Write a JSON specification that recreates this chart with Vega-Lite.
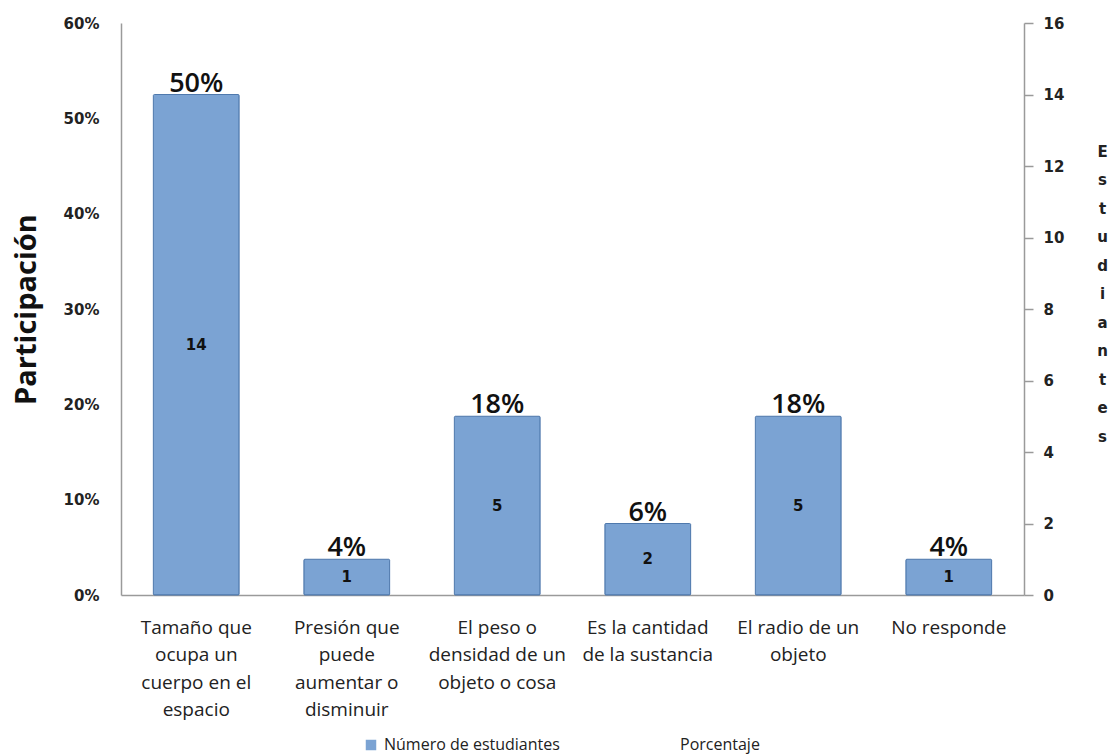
{
  "$schema": "https://vega.github.io/schema/vega-lite/v6.json",
  "width": 903,
  "height": 572,
  "autosize": {"type": "none"},
  "padding": {"left": 121, "top": 23, "right": 90, "bottom": 160},
  "background": "white",
  "config": {"view": {"stroke": null}},
  "data": {
    "values": [
      {"categoria": "Tamaño que|ocupa un|cuerpo en el|espacio", "estudiantes": 14, "porcentaje": "50%", "serie": "Número de estudiantes"},
      {"categoria": "Presión que|puede|aumentar o|disminuir", "estudiantes": 1, "porcentaje": "4%", "serie": "Número de estudiantes"},
      {"categoria": "El peso o|densidad de un|objeto o cosa", "estudiantes": 5, "porcentaje": "18%", "serie": "Número de estudiantes"},
      {"categoria": "Es la cantidad|de la sustancia", "estudiantes": 2, "porcentaje": "6%", "serie": "Número de estudiantes"},
      {"categoria": "El radio de un|objeto", "estudiantes": 5, "porcentaje": "18%", "serie": "Número de estudiantes"},
      {"categoria": "No responde", "estudiantes": 1, "porcentaje": "4%", "serie": "Número de estudiantes"}
    ]
  },
  "encoding": {
    "x": {
      "field": "categoria",
      "type": "nominal",
      "sort": null,
      "scale": {"paddingInner": 0.43, "paddingOuter": 0.215},
      "axis": {
        "title": null,
        "labelAngle": 0,
        "labelExpr": "split(datum.label, '|')",
        "labelFont": "Open Sans",
        "labelFontSize": 19,
        "labelColor": "#222222",
        "labelLineHeight": 27.5,
        "labelPadding": 23,
        "labelBaseline": "top",
        "ticks": false,
        "domainColor": "#9a9a9a",
        "domainWidth": 1.5,
        "labelLimit": 200
      }
    }
  },
  "layer": [
    {
      "layer": [
        {
          "mark": {"type": "bar", "stroke": "#4f79ad", "strokeWidth": 1, "cornerRadius": 1},
          "encoding": {
            "y": {
              "field": "estudiantes",
              "type": "quantitative",
              "scale": {"domain": [0, 16], "nice": false},
              "axis": {
                "orient": "right",
                "values": [0, 2, 4, 6, 8, 10, 12, 14, 16],
                "grid": false,
                "labelFont": "DejaVu Sans",
                "labelFontWeight": "bold",
                "labelFontSize": 15,
                "labelColor": "#222222",
                "labelPadding": 10,
                "tickColor": "#9a9a9a",
                "tickSize": 9,
                "tickWidth": 1.5,
                "domainColor": "#9a9a9a",
                "domainWidth": 1.5,
                "title": ["E", "s", "t", "u", "d", "i", "a", "n", "t", "e", "s"],
                "titleAngle": 0,
                "titleFont": "DejaVu Sans",
                "titleFontWeight": "bold",
                "titleFontSize": 15,
                "titleColor": "#222222",
                "titleLineHeight": 28.5,
                "titleAlign": "center",
                "titleBaseline": "top",
                "titleX": 78,
                "titleY": 121
              }
            },
            "color": {
              "field": "serie",
              "type": "nominal",
              "scale": {"domain": ["Número de estudiantes", "Porcentaje"], "range": ["#7ba3d3", "rgba(0,0,0,0)"]},
              "legend": {
                "title": null,
                "orient": "none",
                "direction": "horizontal",
                "legendX": 242,
                "legendY": 714,
                "symbolType": "square",
                "symbolSize": 110,
                "symbolStrokeWidth": 0,
                "labelFont": "Open Sans",
                "labelFontSize": 16,
                "labelColor": "#222222",
                "labelLimit": 400,
                "columnPadding": 99,
                "labelOffset": 5
              }
            }
          }
        },
        {
          "mark": {"type": "text", "font": "Open Sans", "fontWeight": 600, "fontSize": 27, "color": "#111111", "baseline": "alphabetic", "dy": -3},
          "encoding": {
            "y": {"field": "estudiantes", "type": "quantitative"},
            "text": {"field": "porcentaje"}
          }
        },
        {
          "transform": [{"calculate": "datum.estudiantes / 2", "as": "mitad"}],
          "mark": {"type": "text", "font": "DejaVu Sans", "fontWeight": "bold", "fontSize": 15, "color": "#111111", "baseline": "middle"},
          "encoding": {
            "y": {"field": "mitad", "type": "quantitative"},
            "text": {"field": "estudiantes", "type": "quantitative"}
          }
        }
      ]
    },
    {
      "mark": {"type": "point", "opacity": 0},
      "encoding": {
        "y": {
          "datum": 0,
          "type": "quantitative",
          "scale": {"domain": [0, 0.6], "nice": false},
          "axis": {
            "orient": "left",
            "values": [0, 0.1, 0.2, 0.3, 0.4, 0.5, 0.6],
            "format": ".0%",
            "grid": false,
            "ticks": false,
            "labelFont": "DejaVu Sans",
            "labelFontWeight": "bold",
            "labelFontSize": 15,
            "labelColor": "#222222",
            "labelPadding": 22,
            "domainColor": "#9a9a9a",
            "domainWidth": 1.5,
            "title": "Participación",
            "titleFont": "Open Sans",
            "titleFontWeight": "bold",
            "titleFontSize": 29,
            "titleColor": "#111111",
            "titleAngle": -90,
            "titleAlign": "center",
            "titleBaseline": "middle",
            "titleX": -95,
            "titleY": 286
          }
        }
      }
    }
  ],
  "resolve": {"scale": {"y": "independent"}, "axis": {"y": "independent"}}
}
